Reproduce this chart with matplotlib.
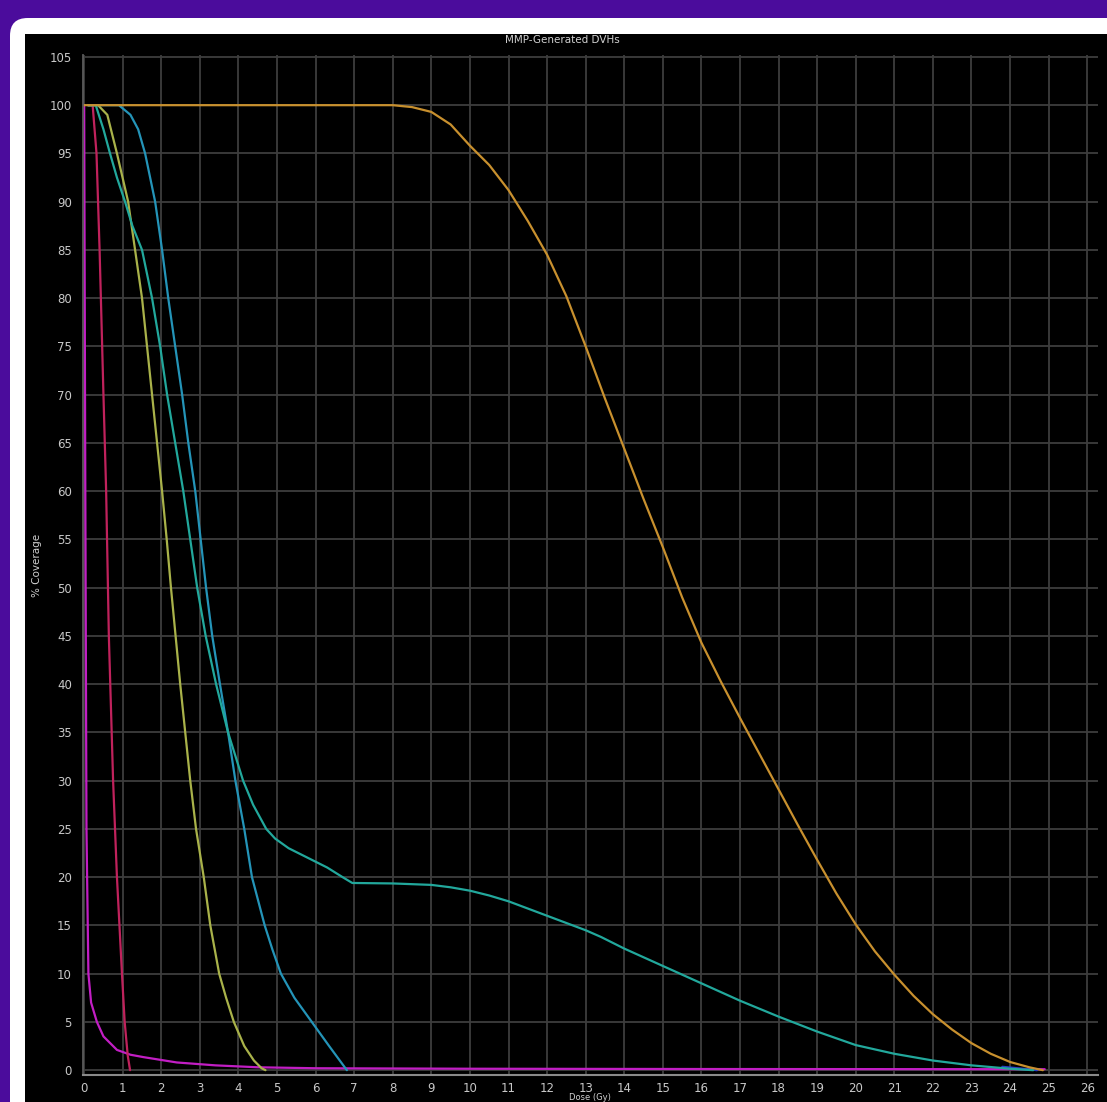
import numpy as np
import matplotlib
matplotlib.use("Agg")
import matplotlib.pyplot as plt
from matplotlib.patches import FancyBboxPatch, Rectangle

# dose (Gy) / % coverage
mag_x = [0, 0.03, 0.06, 0.11, 0.18, 0.33, 0.5, 0.85, 1.2, 1.54, 2.4, 3.4, 4.5, 6, 10, 16, 24.9]
mag_y = [100, 60, 25, 10, 7, 5, 3.5, 2.1, 1.6, 1.35, 0.8, 0.5, 0.3, 0.2, 0.15, 0.12, 0.1]

red_x = [0.1, 0.22, 0.32, 0.4, 0.5, 0.57, 0.64, 0.75, 0.85, 0.98, 1.05, 1.13, 1.19]
red_y = [100, 100, 95, 85, 70, 60, 45, 30, 20, 10, 5, 1.5, 0]

yel_x = [0.1, 0.36, 0.6, 0.85, 1.14, 1.32, 1.5, 1.63, 1.76, 1.89, 2.02, 2.14, 2.25, 2.37, 2.49,
         2.62, 2.75, 2.9, 3.1, 3.27, 3.5, 3.68, 3.88, 4.15, 4.4, 4.6, 4.7]
yel_y = [100, 100, 99, 95, 90, 85, 80, 75, 70, 65, 60, 55, 50, 45, 40,
         35, 30, 25, 20, 15, 10, 7.5, 5, 2.5, 1, 0.2, 0]

teal_x = [0.1, 0.3, 0.5, 0.67, 0.85, 1.06, 1.25, 1.5, 1.76, 1.97, 2.15, 2.36, 2.57, 2.75, 2.93,
          3.15, 3.42, 3.73, 4.12, 4.38, 4.72, 4.95, 5.3, 5.8, 6.3, 6.7, 6.95, 8, 9, 9.5, 10, 10.5, 11,
          11.6, 12, 13, 13.4, 14, 15, 16, 17, 18, 19, 20, 21, 22, 23, 24, 24.6]
teal_y = [100, 100, 97.5, 95, 92.5, 90, 87.5, 85, 80, 75, 70, 65, 60, 55, 50,
          45, 40, 35, 30, 27.5, 25, 24, 23, 22, 21, 20, 19.4, 19.35, 19.2, 18.95, 18.6, 18.1, 17.5,
          16.6, 16.0, 14.5, 13.8, 12.6, 10.8, 9.0, 7.2, 5.55, 4.0, 2.6, 1.7, 1.0, 0.5, 0.15, 0]

cyan_x = [0.1, 0.9, 1.2, 1.4, 1.58, 1.84, 2.02, 2.18, 2.36, 2.54, 2.7, 2.88, 3.02, 3.16, 3.32,
          3.52, 3.73, 3.92, 4.15, 4.35, 4.68, 4.88, 5.1, 5.45, 5.9, 6.35, 6.81]
cyan_y = [100, 100, 99, 97.5, 95, 90, 85, 80, 75, 70, 65, 60, 55, 50, 45,
          40, 35, 30, 25, 20, 15, 12.5, 10, 7.5, 5, 2.5, 0]

org_x = [0, 8, 8.5, 9, 9.5, 10, 10.5, 11, 11.5, 12, 12.5, 13, 13.5, 14, 14.5, 15, 15.5, 16,
         16.5, 17, 17.5, 18, 18.5, 19, 19.5, 20, 20.5, 21, 21.5, 22, 22.5, 23, 23.5, 24, 24.5, 24.85]
org_y = [100, 100, 99.8, 99.3, 98.0, 95.8, 93.8, 91.2, 88.0, 84.5, 80.2, 75.0, 69.6, 64.4, 59.2, 54.2, 49.0, 44.3,
         40.3, 36.5, 32.8, 29.1, 25.4, 21.8, 18.3, 15.1, 12.3, 9.9, 7.7, 5.8, 4.2, 2.8, 1.7, 0.85, 0.3, 0]

blue_x = [23.8, 24.2, 24.7]
blue_y = [0.35, 0.2, 0]

series = [
    (mag_x, mag_y, "#c21ec4"),
    (red_x, red_y, "#c0225c"),
    (blue_x, blue_y, "#2a3cc8"),
    (yel_x, yel_y, "#a9b24a"),
    (cyan_x, cyan_y, "#2494b8"),
    (teal_x, teal_y, "#22a89c"),
    (org_x, org_y, "#c8902e"),
]

W, H = 1107, 1102
fig = plt.figure(figsize=(W / 100, H / 100), dpi=100)
fig.patch.set_facecolor("#4b0c9c")

# white card + black panel of the screenshot (drawn under the axes)
card = FancyBboxPatch((10 / W, -0.2), 1.2, 1.2 - 18 / H, boxstyle="round,pad=0,rounding_size=0.016",
                      transform=fig.transFigure, facecolor="white", edgecolor="none", zorder=-3)
fig.patches.append(card)
fig.patches.append(Rectangle((25 / W, -0.1), 1.2, 1.1 - 34 / H, transform=fig.transFigure,
                             facecolor="black", edgecolor="none", zorder=-2))

ax = fig.add_axes([83 / W, 27 / H, (1098 - 83) / W, (1075 - 55) / H])
ax.set_facecolor("black")

for x, y, c in series:
    ax.plot(x, y, color=c, lw=1.6, solid_capstyle="round", solid_joinstyle="round")

ax.set_xlim(-0.03, 26.28)
ax.set_ylim(-0.5, 105.2)
ax.set_xticks(np.arange(0, 27, 1))
ax.set_yticks(np.arange(0, 106, 5))
ax.grid(True, color="#3d3d3d", lw=1.3)
ax.set_axisbelow(True)
ax.tick_params(length=0, colors="#c8c8c8", labelsize=8.5)
ax.tick_params(axis="y", pad=8)
ax.tick_params(axis="x", pad=5)
for s in ["top", "right"]:
    ax.spines[s].set_visible(False)
ax.spines["left"].set_color("#5a5a5a")
ax.spines["bottom"].set_color("#8a8a8a")
ax.spines["left"].set_linewidth(1.3)
ax.spines["bottom"].set_linewidth(1.5)

fig.text(562 / W, 1 - 40 / H, "MMP-Generated DVHs", color="#d0d0d0", fontsize=7.5,
         ha="center", va="center")
fig.text(37 / W, 1 - 565 / H, "% Coverage", color="#d0d0d0", fontsize=7.5,
         rotation=90, ha="center", va="center")
fig.text(590 / W, 1 - 1097.5 / H, "Dose (Gy)", color="#d0d0d0", fontsize=6,
         ha="center", va="center")

fig.savefig("out.png", dpi=100, facecolor=fig.get_facecolor())
